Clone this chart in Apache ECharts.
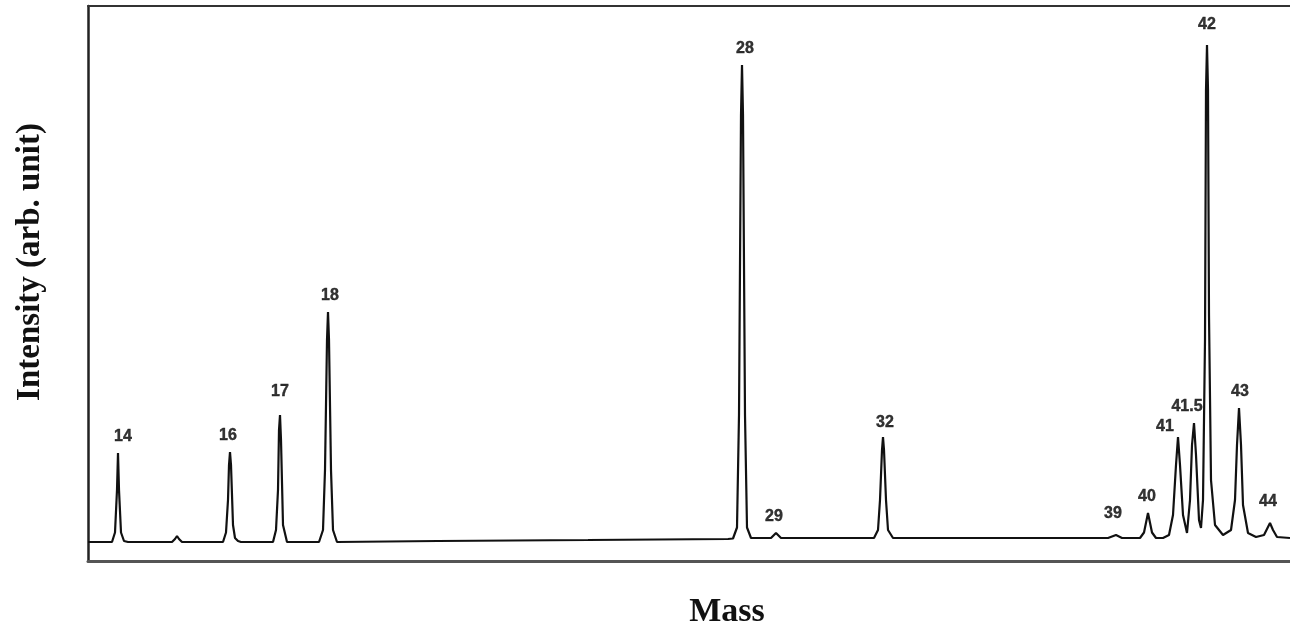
<!DOCTYPE html>
<html>
<head>
<meta charset="utf-8">
<title>Mass spectrum</title>
<script src="https://cdn.jsdelivr.net/npm/echarts@6/dist/echarts.min.js"></script>
<style>
  html, body { margin: 0; padding: 0; background: #fff; }
  #spectrum { width: 1290px; height: 626px; }
</style>
</head>
<body>
<div id="spectrum"></div>
<script>
// trace, x = scan position (arb.), y = intensity (arb.)
var scanPos = [
  0, 24, 27, 29, 30, 31, 33, 36, 40,
  84, 87, 89, 91, 94,
  135, 138, 140, 141, 142, 143, 145, 147, 150, 153,
  185, 188, 190, 191, 192, 193, 195, 199,
  231, 235, 237, 239, 240, 241, 243, 245, 249,
  350, 500, 640,
  645, 649, 651, 653, 654, 655, 657, 659, 663,
  683, 688, 693,
  786, 790, 792, 794, 795, 796, 798, 800, 805,
  900, 1020,
  1022, 1028, 1034,
  1052, 1056, 1060, 1064, 1068, 1075,
  1081, 1085, 1088, 1090, 1092, 1095, 1099,
  1102, 1104, 1106, 1108, 1111, 1113,
  1115, 1117, 1118, 1119, 1120, 1121, 1123, 1127, 1135,
  1143, 1147, 1149, 1151, 1153, 1155, 1160, 1168,
  1176, 1180, 1182, 1185, 1189, 1202
];
var intensity = [
  -0.4, -0.4, 1.5, 10, 17.4, 10, 1.5, -0.2, -0.4,
  -0.4, 0.2, 0.8, 0.2, -0.4,
  -0.4, 1.5, 8, 15, 17.6, 15, 3, 0.4, -0.2, -0.4,
  -0.4, 2, 10, 22, 25, 20, 3, -0.4,
  -0.4, 2, 14, 40, 45.6, 40, 14, 2, -0.4,
  -0.2, 0, 0.2,
  0.3, 2.5, 25, 85, 95, 85, 25, 2.5, 0.4,
  0.4, 1.4, 0.4,
  0.4, 2, 8, 18, 20.6, 18, 8, 2, 0.4,
  0.4, 0.4,
  0.4, 1.0, 0.4,
  0.4, 1.5, 5.4, 1.5, 0.4, 0.4,
  1, 5, 15, 20.6, 15, 5, 1.4,
  8, 19, 23.4, 17, 4, 2.4,
  8, 40, 90, 99, 90, 45, 12, 3, 1,
  2, 8, 19, 26.4, 19, 7, 1.4, 0.6,
  1, 2.6, 3.4, 2, 0.6, 0.4
];

// labelled peaks
var peakMass = ['14', '16', '17', '18', '28', '29', '32', '39', '40', '41', '41.5', '42', '43', '44'];
var peakScan = [30, 142, 192, 240, 654, 688, 795, 1028, 1060, 1090, 1106, 1119, 1151, 1182];
var peakHeight = [17.4, 17.6, 25, 45.6, 95, 1.4, 20.6, 1.0, 5.4, 20.6, 23.4, 99, 26.4, 3.4];

// small nudges so the labels sit where they are printed
var labelNudge = {
  '14': [5, 0], '16': [-2, 0], '17': [0, -7], '18': [2, 0], '28': [3, 0],
  '29': [-2, 0], '32': [2, 2], '39': [-3, -5], '40': [-1, 0], '41': [-13, 6],
  '41.5': [-7, 0], '42': [0, -4], '43': [1, 0], '44': [-2, -5]
};

function initSpectrum() {
  var chart = echarts.init(document.getElementById('spectrum'));

  var trace = scanPos.map(function (x, i) { return [x, intensity[i]]; });
  var peaks = peakMass.map(function (m, i) {
    return {
      name: m,
      value: [peakScan[i], peakHeight[i]],
      label: { offset: labelNudge[m] || [0, 0] }
    };
  });

  var option = {
    backgroundColor: '#fff',
    animation: false,
    grid: { left: 88, right: 0, top: 6, bottom: 65 },
    xAxis: [
      {
        type: 'value', min: 0, max: 1202, position: 'bottom',
        axisLine: { show: true, onZero: false, lineStyle: { color: '#555', width: 3 } },
        axisTick: { show: false }, axisLabel: { show: false }, splitLine: { show: false }
      },
      {
        type: 'value', min: 0, max: 1202, position: 'top',
        axisLine: { show: true, onZero: false, lineStyle: { color: '#333', width: 2 } },
        axisTick: { show: false }, axisLabel: { show: false }, splitLine: { show: false }
      }
    ],
    yAxis: {
      type: 'value', min: -4.2, max: 106.8,
      axisLine: { show: true, onZero: false, lineStyle: { color: '#222', width: 2.5 } },
      axisTick: { show: false }, axisLabel: { show: false }, splitLine: { show: false }
    },
    graphic: [
      {
        type: 'text', x: 30, y: 262, rotation: Math.PI / 2,
        style: {
          text: 'Intensity (arb. unit)', fill: '#111',
          font: 'bold 33px "Liberation Serif", serif',
          align: 'center', verticalAlign: 'middle'
        }
      },
      {
        type: 'text', x: 727, y: 612,
        style: {
          text: 'Mass', fill: '#111',
          font: 'bold 34px "Liberation Serif", serif',
          align: 'center', verticalAlign: 'middle'
        }
      }
    ],
    series: [
      {
        name: 'trace',
        type: 'line',
        data: trace,
        showSymbol: false,
        lineStyle: { color: '#111', width: 2.2 },
        z: 3
      },
      {
        name: 'peaks',
        type: 'scatter',
        data: peaks,
        symbolSize: 0,
        label: {
          show: true,
          position: 'top',
          distance: 8,
          formatter: '{b}',
          color: '#000',
          fontFamily: '"Liberation Sans", Arial, sans-serif',
          fontWeight: 'bold',
          fontSize: 16,
          textBorderColor: '#000',
          textBorderWidth: 0.4
        },
        z: 4
      }
    ]
  };
  chart.setOption(option);
}

initSpectrum();
</script>
</body>
</html>
